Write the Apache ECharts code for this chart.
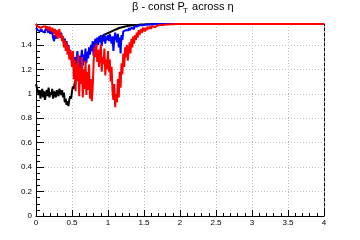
<!DOCTYPE html>
<html><head><meta charset="utf-8">
<script src="https://cdn.jsdelivr.net/npm/echarts@6/dist/echarts.min.js"></script>
<style>html,body{margin:0;padding:0;background:#fff}#c{width:360px;height:240px}</style>
</head><body><div id="c"></div><script>
// histogram bins: left edges start at 0, width 0.0125, 160 bins up to eta = 2
const binWidth = 0.0125;
const plateau = 1.5708;   // value for all bins beyond eta = 2
const xMax = 4;
const xTicks = [0, 0.5, 1, 1.5, 2, 2.5, 3, 3.5, 4];
const yTicks = [0, 0.2, 0.4, 0.6, 0.8, 1, 1.2, 1.4];

const blackVals = [
 1.08,1.05,1.06,0.99,1.03,0.96,1.01,1.04,0.97,1.02,
 0.95,1.00,1.03,0.98,1.05,0.97,1.01,0.99,1.04,0.96,
 1.02,1.00,0.97,1.03,1.01,0.98,1.04,1.02,0.99,1.03,
 0.97,1.01,0.93,0.96,0.91,0.94,0.90,0.95,0.98,0.96,
 1.02,1.06,1.04,1.09,1.11,1.10,1.13,1.15,1.18,1.20,
 1.22,1.23,1.25,1.26,1.28,1.29,1.31,1.32,1.34,1.35,
 1.36,1.37,1.38,1.39,1.40,1.41,1.42,1.43,1.43,1.44,
 1.45,1.45,1.46,1.47,1.47,1.48,1.48,1.49,1.49,1.50,
 1.50,1.505,1.51,1.51,1.515,1.52,1.52,1.525,1.53,1.53,
 1.535,1.535,1.54,1.54,1.542,1.545,1.547,1.55,1.55,1.552,
 1.553,1.555,1.556,1.557,1.558,1.559,1.56,1.56,1.561,1.562,
 1.563,1.563,1.564,1.564,1.565,1.565,1.566,1.566,1.567,1.567,
 1.567,1.568,1.568,1.568,1.569,1.569,1.569,1.569,1.57,1.57,
 1.5708,1.5708,1.5708,1.5708,1.5708,1.5708,1.5708,1.5708,1.5708,1.5708,
 1.5708,1.5708,1.5708,1.5708,1.5708,1.5708,1.5708,1.5708,1.5708,1.5708,
 1.5708,1.5708,1.5708,1.5708,1.5708,1.5708,1.5708,1.5708,1.5708,1.5708
];
const blueVals = [
 1.54,1.53,1.52,1.53,1.51,1.52,1.53,1.51,1.52,1.50,
 1.52,1.51,1.53,1.50,1.52,1.51,1.49,1.52,1.50,1.46,
 1.43,1.48,1.45,1.50,1.47,1.51,1.49,1.46,1.50,1.44,
 1.47,1.41,1.45,1.40,1.43,1.37,1.40,1.33,1.36,1.30,
 1.26,1.33,1.22,1.30,1.20,1.28,1.35,1.24,1.31,1.19,
 1.29,1.36,1.23,1.32,1.27,1.37,1.25,1.34,1.29,1.38,
 1.32,1.40,1.35,1.43,1.31,1.41,1.45,1.38,1.46,1.40,
 1.47,1.42,1.48,1.39,1.46,1.43,1.49,1.41,1.47,1.44,
 1.48,1.43,1.49,1.45,1.41,1.47,1.35,1.44,1.50,1.46,
 1.42,1.49,1.38,1.46,1.33,1.48,1.44,1.51,1.50,1.52,
 1.51,1.53,1.52,1.54,1.52,1.53,1.54,1.55,1.53,1.55,
 1.54,1.55,1.555,1.55,1.56,1.555,1.56,1.56,1.562,1.563,
 1.564,1.565,1.565,1.566,1.566,1.567,1.567,1.568,1.568,1.569,
 1.569,1.569,1.57,1.57,1.57,1.5708,1.5708,1.5708,1.5708,1.5708,
 1.5708,1.5708,1.5708,1.5708,1.5708,1.5708,1.5708,1.5708,1.5708,1.5708,
 1.5708,1.5708,1.5708,1.5708,1.5708,1.5708,1.5708,1.5708,1.5708,1.5708
];
const redVals = [
 1.57,1.56,1.55,1.56,1.54,1.55,1.53,1.55,1.56,1.54,
 1.55,1.53,1.55,1.54,1.52,1.55,1.53,1.51,1.54,1.52,
 1.49,1.53,1.47,1.52,1.45,1.50,1.53,1.46,1.49,1.43,
 1.47,1.38,1.44,1.35,1.42,1.32,1.39,1.28,1.36,1.30,
 1.22,1.35,1.12,1.28,1.02,1.25,1.10,1.32,0.98,1.22,
 1.08,1.30,0.97,1.20,1.04,1.27,0.99,1.18,1.03,1.24,
 0.96,1.12,0.94,1.05,1.25,1.38,1.30,1.41,1.26,1.36,
 1.22,1.33,1.40,1.18,1.30,1.24,1.37,1.15,1.28,1.20,
 1.35,1.18,1.28,1.10,1.22,1.02,0.95,1.08,0.89,1.00,
 0.93,1.12,0.97,1.18,1.05,1.25,1.16,1.33,1.22,1.38,
 1.30,1.40,1.27,1.36,1.42,1.33,1.45,1.38,1.47,1.41,
 1.48,1.44,1.50,1.46,1.52,1.48,1.51,1.53,1.50,1.54,
 1.53,1.51,1.54,1.52,1.55,1.53,1.54,1.55,1.53,1.555,
 1.55,1.545,1.56,1.55,1.558,1.56,1.555,1.562,1.56,1.563,
 1.562,1.565,1.564,1.566,1.565,1.567,1.566,1.568,1.567,1.568,
 1.569,1.568,1.569,1.57,1.569,1.57,1.57,1.5708,1.5708,1.5708
];

function toData(vals){
  const d = vals.map((v,i)=>[+(i*binWidth).toFixed(5), v]);
  d.push([+(vals.length*binWidth).toFixed(5), plateau]);
  d.push([xMax, plateau]);
  return d;
}
const font = 'Liberation Sans, Arial, sans-serif';
const chart = echarts.init(document.getElementById('c'), null, {renderer:'canvas'});
const fmt = v => String(+v.toFixed(3));
function line(name, vals, color){
  return {name, type:'line', data:toData(vals), step:'end', symbol:'none', showSymbol:false,
    lineStyle:{color, width:2}, itemStyle:{color}, animation:false, xAxisIndex:0, yAxisIndex:0, z:3};
}
chart.setOption({
  animation:false,
  backgroundColor:'#fff',
  grid:{left:36, right:36, top:24, bottom:24, containLabel:false},
  graphic:[
    {type:'text', left:132, top:1, style:{text:'β - const P', font:'11px '+font, fill:'#000'}},
    {type:'text', left:183, top:7, style:{text:'T', font:'8px '+font, fill:'#000'}},
    {type:'text', left:189, top:1, style:{text:' across η', font:'11px '+font, fill:'#000'}}
  ],
  xAxis:[{
    type:'value', min:0, max:xMax, interval:xTicks[1]-xTicks[0], position:'bottom',
    axisLine:{show:true, onZero:false, lineStyle:{color:'#000', width:1}},
    axisTick:{show:true, inside:true, length:6, lineStyle:{color:'#000'}},
    minorTick:{show:true, splitNumber:5, length:3, lineStyle:{color:'#000'}},
    axisLabel:{color:'#000', fontSize:8, fontFamily:font, margin:3, formatter:fmt},
    splitLine:{show:true, lineStyle:{color:'#c0c0c0', type:[1,2], width:1}}
  },{
    type:'value', min:0, max:xMax, position:'top',
    axisLine:{show:true, onZero:false, lineStyle:{color:'#000', width:1}},
    axisTick:{show:false}, axisLabel:{show:false}, splitLine:{show:false}
  }],
  yAxis:[{
    type:'value', min:0, max:plateau, interval:yTicks[1]-yTicks[0], position:'left',
    axisLine:{show:true, onZero:false, lineStyle:{color:'#000', width:1}},
    axisTick:{show:true, inside:true, length:8, lineStyle:{color:'#000'}},
    minorTick:{show:true, splitNumber:4, length:4, lineStyle:{color:'#000'}},
    axisLabel:{color:'#000', fontSize:8, fontFamily:font, margin:4, formatter:fmt, showMaxLabel:false},
    splitLine:{show:true, lineStyle:{color:'#c0c0c0', type:[1,2], width:1}}
  },{
    type:'value', min:0, max:plateau, position:'right',
    axisLine:{show:true, onZero:false, lineStyle:{color:'#000', width:1, type:[3,2]}},
    axisTick:{show:false}, axisLabel:{show:false}, splitLine:{show:false}
  }],
  series:[
    line('black', blackVals, '#000000'),
    line('blue', blueVals, '#0000ff'),
    line('red', redVals, '#ff0000')
  ]
});
</script></body></html>
